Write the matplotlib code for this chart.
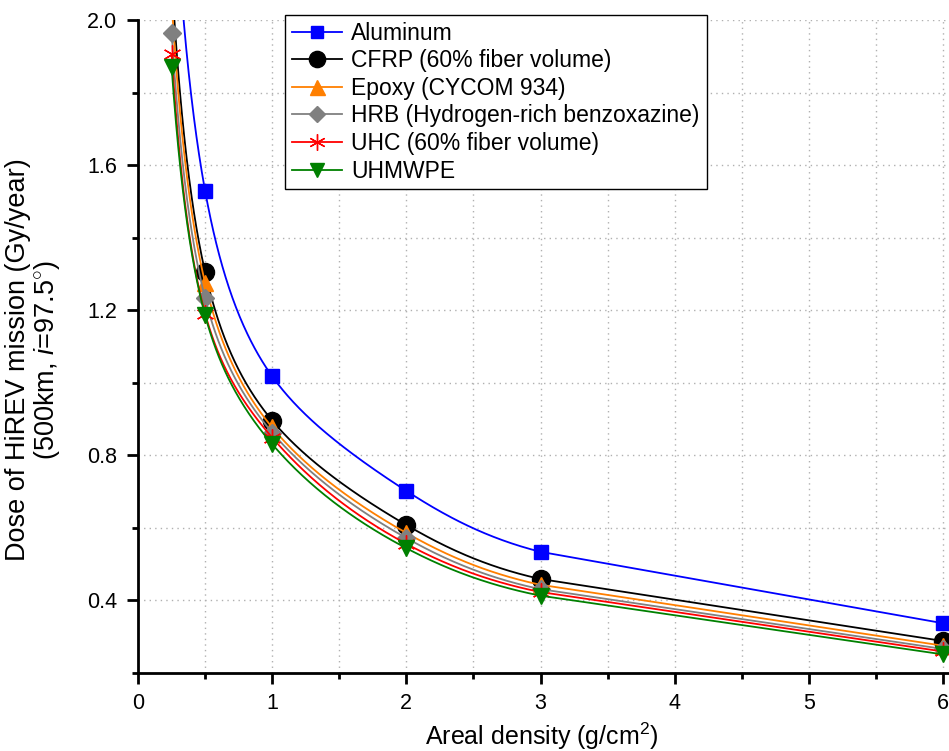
import numpy as np
import matplotlib
matplotlib.use('Agg')
import matplotlib.pyplot as plt
from matplotlib.ticker import MultipleLocator, FormatStrFormatter

plt.rcParams['font.family'] = ['Liberation Sans', 'DejaVu Sans']
plt.rcParams['mathtext.fontset'] = 'custom'
plt.rcParams['mathtext.rm'] = 'Liberation Sans'
plt.rcParams['mathtext.it'] = 'Liberation Sans:italic'

# areal density (g/cm2)
density = [0.25, 0.5, 1, 2, 3, 6]

# dose (Gy/year)
aluminum = [2.50, 1.528, 1.017, 0.701, 0.533, 0.336]
cfrp     = [2.12, 1.304, 0.895, 0.607, 0.458, 0.287]
epoxy    = [2.05, 1.274, 0.876, 0.585, 0.442, 0.274]
hrb      = [1.965, 1.232, 0.862, 0.571, 0.430, 0.265]
uhc      = [1.905, 1.190, 0.848, 0.555, 0.422, 0.258]
uhmwpe   = [1.870, 1.185, 0.830, 0.543, 0.412, 0.250]

names = ['Aluminum', 'CFRP (60% fiber volume)', 'Epoxy (CYCOM 934)',
         'HRB (Hydrogen-rich benzoxazine)', 'UHC (60% fiber volume)', 'UHMWPE']
series = [aluminum, cfrp, epoxy, hrb, uhc, uhmwpe]
colors = ['#0000FF', '#000000', '#FF7F00', '#808080', '#FF0000', '#008000']
markers = ['s', 'o', '^', 'D', (6, 2, 0), 'v']
msizes = [10, 13, 12, 9, 13, 11]


def spline(x, y, xs, end_slope):
    # cubic spline, natural at the left end, given slope at the right end
    x = np.asarray(x, float)
    y = np.asarray(y, float)
    n = len(x)
    h = np.diff(x)
    A = np.zeros((n, n))
    b = np.zeros(n)
    A[0, 0] = 1
    for i in range(1, n - 1):
        A[i, i - 1] = h[i - 1]
        A[i, i] = 2 * (h[i - 1] + h[i])
        A[i, i + 1] = h[i]
        b[i] = 3 * ((y[i + 1] - y[i]) / h[i] - (y[i] - y[i - 1]) / h[i - 1])
    A[-1, -2] = h[-1]
    A[-1, -1] = 2 * h[-1]
    b[-1] = 3 * (end_slope - (y[-1] - y[-2]) / h[-1])
    c = np.linalg.solve(A, b)
    out = np.empty_like(xs)
    for k, xv in enumerate(xs):
        i = min(max(np.searchsorted(x, xv) - 1, 0), n - 2)
        dx = xv - x[i]
        bi = (y[i + 1] - y[i]) / h[i] - h[i] * (2 * c[i] + c[i + 1]) / 3
        di = (c[i + 1] - c[i]) / (3 * h[i])
        out[k] = y[i] + bi * dx + c[i] * dx ** 2 + di * dx ** 3
    return out


fig = plt.figure(figsize=(9.49, 7.51), dpi=100)
ax = fig.add_axes([0.1455, 0.1045, 0.8545, 0.8688])

for vals, name, col, mk, ms in zip(series, names, colors, markers, msizes):
    # smooth curve (log-log) up to x=3, straight segment 3 -> 6
    lxd = np.log(density)
    lyd = np.log(vals)
    line_slope = (vals[-1] - vals[-2]) / (density[-1] - density[-2]) * density[-2] / vals[-2]
    sec_slope = (lyd[-2] - lyd[-3]) / (lxd[-2] - lxd[-3])
    end_slope = 0.5 * (line_slope + sec_slope)
    lx = np.linspace(lxd[0], lxd[-2], 400)
    ys = np.exp(spline(lxd[:-1], lyd[:-1], lx, end_slope))
    xs = np.append(np.exp(lx), density[-1])
    ys = np.append(ys, vals[-1])
    ax.plot(xs, ys, color=col, lw=1.3)
    ax.plot(density, vals, linestyle='none', marker=mk, color=col,
            markersize=ms, markeredgewidth=1.0)
    ax.plot([], [], color=col, lw=1.3, marker=mk, markersize=ms, label=name)

ax.set_xlim(0, 6.045)
ax.set_ylim(0.2, 2.0)
ax.xaxis.set_major_locator(MultipleLocator(1))
ax.xaxis.set_minor_locator(MultipleLocator(0.5))
ax.yaxis.set_minor_locator(MultipleLocator(0.2))
ax.yaxis.set_major_formatter(FormatStrFormatter('%.1f'))
ax.set_yticks([0.4, 0.8, 1.2, 1.6, 2.0])

ax.grid(True, which='both', linestyle=(0, (1, 3)), color='#b0b0b0', lw=1.0)
ax.set_axisbelow(True)
ax.spines['top'].set_visible(False)
ax.spines['right'].set_visible(False)
ax.spines['left'].set_linewidth(2.0)
ax.spines['bottom'].set_linewidth(2.0)
ax.tick_params(which='major', direction='out', length=8, width=2.0, labelsize=15.5, pad=7)
ax.tick_params(which='minor', direction='out', length=4.5, width=2.0)

ax.set_xlabel('Areal density (g/cm$^2$)', fontsize=18)
ax.xaxis.set_label_coords(0.4975, -0.074)
ax.set_ylabel('Dose of HiREV mission (Gy/year)\n(500km, $\\mathit{i}$=97.5$^{\\circ}$)',
              fontsize=19.5, linespacing=1.05)
ax.yaxis.set_label_coords(-0.094, 0.479)

leg = ax.legend(loc='upper left', bbox_to_anchor=(0.181, 1.008), fontsize=16.5,
                frameon=True, fancybox=False, edgecolor='black', framealpha=1,
                handlelength=2.2, borderpad=0.3, labelspacing=0.2, handletextpad=0.4,
                borderaxespad=0, markerscale=0.9)
leg.get_frame().set_linewidth(1.0)

fig.savefig('out.png', dpi=100)
